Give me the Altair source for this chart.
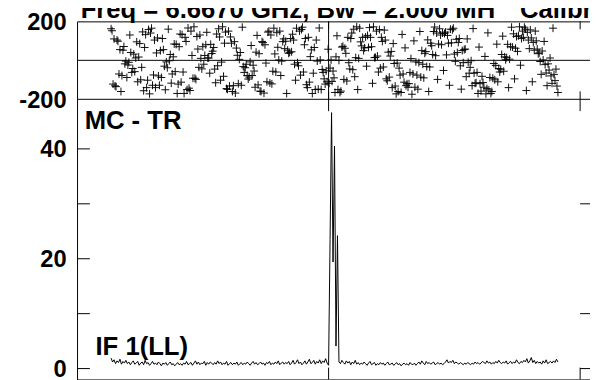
import altair as alt
import pandas as pd

FONT = "Liberation Sans"

title_main = "Freq = 6.6670 GHz, Bw = 2.000 MH"
title_tail = "Calibr"
source_label = "MC - TR"
if_label = "IF 1(LL)"

# amplitude per channel (Jy)
amp = [
    1.9, 1.2, 1.6, 0.9, 1.4, 1.1, 1.7, 0.8, 1.3, 1.0,
    1.5, 0.9, 1.2, 0.7, 1.1, 1.4, 0.8, 1.0, 1.3, 0.6,
    1.0, 1.2, 0.7, 1.5, 0.9, 1.1, 0.6, 0.9, 1.3, 0.8,
    1.0, 0.7, 1.2, 0.9, 0.5, 1.0, 0.8, 1.1, 0.6, 0.9,
    1.2, 0.7, 0.9, 0.5, 0.8, 1.1, 0.7, 0.9, 0.6, 1.0,
    0.8, 1.3, 0.7, 0.9, 1.1, 0.6, 1.0, 1.4, 0.8, 1.2,
    0.7, 1.0, 0.9, 1.3, 0.6, 1.1, 0.8, 1.2, 1.0, 0.7,
    1.1, 0.8, 1.4, 0.9, 1.2, 0.7, 1.0, 0.8, 1.3, 0.6,
    0.9, 1.1, 0.7, 1.0, 0.8, 1.2, 0.6, 0.9, 1.1, 0.7,
    1.0, 0.8, 1.2, 0.9, 0.6, 1.0, 1.3, 0.8, 1.1, 0.7,
    0.9, 1.2, 0.8, 1.0, 0.6, 1.1, 0.9, 1.3, 0.7, 1.0,
    0.8, 1.2, 0.9, 1.4, 0.7, 1.0, 1.2, 0.8, 1.1, 0.9,
    1.3, 0.7, 1.0, 1.5, 0.8, 1.1, 1.6, 0.9, 1.2, 0.7,
    1.0, 1.4, 0.8, 1.2, 1.7, 0.9, 1.1, 1.5, 0.8, 1.3,
    1.0, 1.6, 0.9, 1.4, 1.1, 1.8, 1.0, 0.6, 23.5, 46.6,
    19.4, 40.5, 4.1, 24.2, 1.2, 0.9, 1.5, 1.1, 0.8, 1.4,
    1.0, 1.3, 0.7, 1.2, 0.9, 1.5, 0.8, 1.1, 0.7, 1.0,
    0.8, 1.2, 0.9, 0.6, 1.0, 1.3, 0.7, 0.9, 1.1, 0.6,
    0.9, 0.7, 1.1, 0.8, 1.0, 0.6, 0.9, 1.2, 0.7, 0.8,
    1.0, 0.6, 0.8, 1.1, 0.7, 0.9, 0.5, 0.8, 1.0, 0.7,
    0.9, 0.6, 1.1, 0.8, 0.7, 1.0, 0.6, 0.9, 1.2, 0.8,
    1.4, 1.0, 0.7, 1.3, 0.9, 1.1, 0.8, 1.0, 1.2, 0.7,
    0.9, 1.1, 0.8, 1.0, 0.7, 0.9, 1.2, 1.6, 1.0, 1.3,
    1.1, 1.5, 0.9, 1.2, 1.0, 0.8, 1.1, 0.9, 0.7, 1.0,
    0.8, 1.1, 0.9, 0.7, 1.0, 0.8, 1.2, 0.9, 1.1, 0.8,
    1.0, 1.3, 1.1, 0.9, 1.4, 1.0, 1.2, 0.8, 1.1, 0.9,
    1.3, 1.0, 1.5, 1.1, 0.9, 1.2, 1.0, 1.4, 0.8, 1.1,
    1.3, 0.9, 1.2, 1.0, 1.6, 1.1, 0.9, 1.3, 1.1, 1.5,
    1.2, 1.8, 1.0, 1.4, 2.0, 1.1, 1.5, 0.9, 1.3, 1.0,
    1.2, 0.8, 1.4, 1.0, 1.6, 0.9, 1.1, 1.3, 1.0, 1.4,
    1.1, 1.7, 1.2,
]

# phase samples (degrees), three interleaved sets
phase_a = [
    162, 110, 104, 55, 52, -4, -10, -62, -58, -110, -100, -156, -140, -172,
    -128, -140, -80, -88, -30, -38, 30, 18, 82, 70, 132, 118, 166, 150,
    172, 122, 130, 70, 80, 12, 35, -45, -28, -102, -82, -145, -132, -160,
    -168, -120, -128, -62, -78, -8, -25, 42, 34, 96, 80, 145, 130, 165,
    142, 150, 96, 98, 36, 44, -20, -12, -76, -60, -125, -112, -170, -150,
    -148, -150, -95, -110, -40, -55, 18, 0, 68, 62, 118, 112, 160, 172,
    165, 118, 120, 66, 70, 14, 22, -40, -34, -95, -86, -140, -132, -160,
    -165, -112, -120, -62, -70, -8, -12, 50, 36, 105, 88, 148, 140, 162,
    140, 145, 88, 90, 32, 40, -28, -12, -84, -66, -130, -118, -170, -158,
    -138, -145, -88, -92, -26, -42, 30, 18, 82, 70, 136, 122, 172, 150,
    160, 104, 115, 52, 58, -6, 2, -65, -50, -118, -104, -165,
]
phase_b = [
    152, -131, 98, -160, 71, -88, 130, -42, 12, 17,
    -36, 66, -102, 140, -75, 38, -128, 112, -151, 160,
    -117, 84, -170, 135, -60, 97, -143, 25, -92, 58,
    10, -20, 144, -66, 47, -115, 162, -9, 88, -149,
    120, -130, 63, 5, 170, -38, -96, 76, -55, 128,
    -158, 91, -14, 150, -121, 33, 67, -78, 110, -170,
    41, 134, -102, -28, 158, 80, -140, 19, -66, 104,
    166, -47, -122, 57, 2, -90, 126, -165, 72, 36,
    -12, 140, -84, -150, 95, 50, -30, 168, -118, 15,
    -60, 118, 155, -105, 22, 86, -172, -40, 133, 64,
    -138, 9, 100, -76, 148, -20, 45, -160, 75, 171,
    -98, 130, -52, 28, -128, 157, -5, 92, -148, 55,
    110, -36, 163, -115, 68, -82, 20, 141, -170, -16,
    83, -60, 124, 3, -140, 170, -95, 46, -25, 118,
    -155, 60, -110, 150, 34, -72, 97, -130, 12, 165,
    -45,
]
phase_c = [
    -122, -135, -70, -78, -18, -24, 40, 32, 95, 86, 146, 132, 158,
    165, 104, 115, 50, 55, -8, -2, -70, -58, -122, -112, -170,
    -150, -155, -92, -98, -36, -44, 25, 12, 82, 66, 135, 120, 172,
    145, 150, 88, 96, 26, 40, -32, -20, -86, -78, -138, -126, -160,
    -168, -110, -116, -56, -60, 2, -4, 60, 52, 112, 104, 165, 150,
    170, 112, 118, 54, 66, -4, 2, -62, -54, -118, -108, -165,
    -150, -158, -98, -106, -44, -48, 14, 10, 74, 64, 128, 118, 172,
    150, 158, 97, 104, 42, 46, -16, -14, -76, -70, -130, -120, -174,
    -138, -148, -86, -90, -32, -34, 30, 24, 84, 80, 138, 128, 160,
    165, 108, 112, 50, 58, -10, -2, -66, -62, -120, -114, -172,
    -152, -160, -100, -110, -46, -56, 14, 6, 68, 62, 126, 112, 170,
    144, 156, 92, 100, 38, 48, -22, -18, -80, -72, -132,
]

phase_ticks = [200, -200]
amp_major = [0, 20, 40]
amp_minor = [10, 30]
amp_right_ticks = [0, 10, 30]
x_ticks = [147, 317]
center_channel = 147

X_DOMAIN = [-23, 325]
PHASE_DOMAIN = [-200, 200]
AMP_DOMAIN = [-1.98, 49.03]
W, H, HP = 522, 363, 79  # plot width, plot height, phase panel height
PHASE_STEP = 2 / 3  # phase samples per channel grid step

chan = list(range(len(amp)))
df = pd.DataFrame({"chan": chan, "amp": amp})

sets = [phase_a, phase_b, phase_c]
n_phase = len(phase_a) + len(phase_b) + len(phase_c)
pdf = pd.DataFrame({
    "chan": [i * PHASE_STEP for i in range(n_phase)],
    "phase": [sets[i % 3][i // 3] for i in range(n_phase)],
})

xs = alt.Scale(domain=X_DOMAIN, nice=False, zero=False)
ps = alt.Scale(domain=PHASE_DOMAIN, range=[HP, 0], nice=False, zero=False)
ams = alt.Scale(domain=AMP_DOMAIN, range=[H, HP], nice=False, zero=False)

X = alt.X("chan:Q", scale=xs, axis=None)

points = alt.Chart(pdf).mark_point(
    shape="M-1,0H1M0,-1V1", size=64, filled=False, stroke="black",
    strokeWidth=1, opacity=0.95
).encode(x=X, y=alt.Y("phase:Q", scale=ps, axis=None))

line = alt.Chart(df).mark_line(color="black", strokeWidth=1).encode(
    x=X, y=alt.Y("amp:Q", scale=ams, axis=None)
)

hlines = alt.Chart(pd.DataFrame({"p": [0, -200]})).mark_rule(
    color="black", strokeWidth=1
).encode(y=alt.Y("p:Q", scale=ps, axis=None), x=alt.value(0), x2=alt.value(W))

vline = alt.Chart(pd.DataFrame({"chan": [center_channel], "p1": [200], "p2": [-200]})).mark_rule(
    color="black", strokeWidth=1
).encode(x=X, y=alt.Y("p1:Q", scale=ps, axis=None), y2="p2:Q")

xt = pd.DataFrame({"chan": x_ticks})
xtick_layers = []
for (a, b) in [(0, 8), (HP - 8, HP), (HP, HP + 12), (H - 12, H)]:
    xtick_layers.append(
        alt.Chart(xt).mark_rule(color="black", strokeWidth=1).encode(
            x=X, y=alt.value(a), y2=alt.value(b)
        )
    )

amp_ticks_df = pd.DataFrame({"v": amp_major + amp_minor})
left_ticks = alt.Chart(amp_ticks_df).mark_rule(color="black", strokeWidth=1).encode(
    y=alt.Y("v:Q", scale=ams, axis=None), x=alt.value(0), x2=alt.value(13)
)
right_ticks = alt.Chart(pd.DataFrame({"v": amp_right_ticks})).mark_rule(
    color="black", strokeWidth=1
).encode(y=alt.Y("v:Q", scale=ams, axis=None), x=alt.value(W - 12), x2=alt.value(W))

lab_style = dict(align="right", baseline="middle", dy=1.5, fontSize=24,
                 fontWeight="bold", font=FONT, color="black")
phase_labels = alt.Chart(pd.DataFrame({"v": phase_ticks, "t": [str(v) for v in phase_ticks]})).mark_text(
    **lab_style
).encode(y=alt.Y("v:Q", scale=ps, axis=None), x=alt.value(-10.5), text="t:N")
amp_labels = alt.Chart(pd.DataFrame({"v": amp_major, "t": [str(v) for v in amp_major]})).mark_text(
    **lab_style
).encode(y=alt.Y("v:Q", scale=ams, axis=None), x=alt.value(-10.5), text="t:N")

txt_style = dict(align="left", baseline="alphabetic", fontSize=26, fontWeight="bold",
                 font=FONT, color="black")
title1 = alt.Chart(pd.DataFrame({"t": [title_main]})).mark_text(**txt_style).encode(
    x=alt.value(3.7), y=alt.value(-3), text="t:N")
title2 = alt.Chart(pd.DataFrame({"t": [title_tail]})).mark_text(**txt_style).encode(
    x=alt.value(449), y=alt.value(-3), text="t:N")
src = alt.Chart(pd.DataFrame({"t": [source_label]})).mark_text(**txt_style).encode(
    x=alt.value(7.7), y=alt.value(109), text="t:N")
iflab = alt.Chart(pd.DataFrame({"t": [if_label]})).mark_text(**txt_style).encode(
    x=alt.value(18.7), y=alt.value(338), text="t:N")

chart = alt.layer(
    points, hlines, vline, *xtick_layers, line, left_ticks, right_ticks,
    phase_labels, amp_labels, title1, title2, src, iflab
).resolve_scale(y="independent").properties(
    width=W, height=H, autosize="none",
    padding={"left": 70, "top": 11, "right": -2, "bottom": -2},
    background="white",
).configure_view(stroke="black", strokeWidth=1)

chart.save("out.html", embed_options={"renderer": "svg", "actions": False})
